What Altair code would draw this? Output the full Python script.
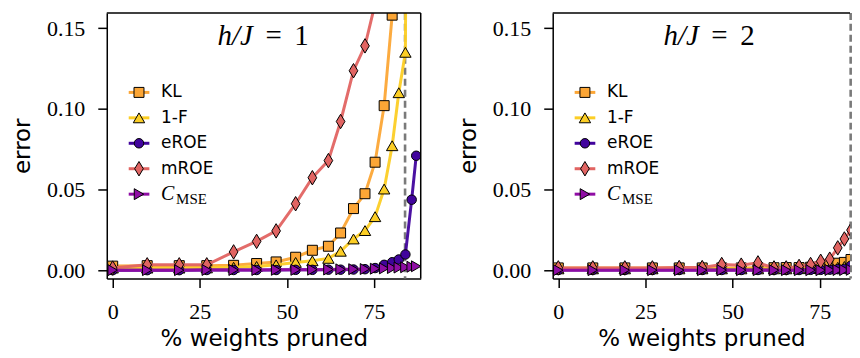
import altair as alt
import pandas as pd

# ---------------- data ----------------
pruned = [0, 9.9, 19.1, 27.0, 34.7, 41.3, 46.9, 52.5, 57.3, 61.9,
          65.4, 69.1, 72.4, 75.3, 77.9, 80.2, 82.1, 84.0, 85.8, 87.1]

series_names = ["KL", "1-F", "eROE", "mROE", "C_MSE"]
series_colors = ["#fca636", "#fcce25", "#41049d", "#e16462", "#8f0da4"]
thin_diamond = "M0,-1L0.6,0L0,1L-0.6,0Z"
series_shapes = ["square", "triangle-up", "circle", thin_diamond, "triangle-right"]
series_sizes = [100, 130, 90, 210, 120]

# h/J = 1
h1_kl = [0.0027, 0.003, 0.003, 0.003, 0.0032, 0.0043, 0.0053, 0.0082, 0.0125, 0.015,
         0.0232, 0.0383, 0.0475, 0.067, 0.102, 0.158, 0.26, 0.42, 0.6, 0.8]
h1_inf = [0.0015, 0.0015, 0.0015, 0.0016, 0.002, 0.0025, 0.0035, 0.005, 0.006, 0.0075,
          0.0119, 0.0195, 0.0247, 0.0333, 0.0504, 0.0772, 0.110, 0.135, 1.0, 1.5]
h1_eroe = [0.0002, 0.0002, 0.0002, 0.0003, 0.0003, 0.0003, 0.0003, 0.0004, 0.0004, 0.0005,
           0.0005, 0.0006, 0.0008, 0.0015, 0.0035, 0.0051, 0.0068, 0.0099, 0.0438, 0.071]
h1_mroe = [0.0015, 0.0035, 0.0035, 0.0035, 0.0115, 0.018, 0.0245, 0.0413, 0.0574, 0.068,
           0.0922, 0.1236, 0.139, 0.165, 0.3, 0.45, 0.6, 0.8, 1.0, 1.2]
h1_cmse = [0.0002, 0.0002, 0.0002, 0.0003, 0.0003, 0.0003, 0.0004, 0.0004, 0.0005, 0.0006,
           0.0007, 0.0008, 0.0009, 0.0011, 0.0013, 0.0015, 0.0018, 0.002, 0.0023, 0.0026]

# h/J = 2
h2_kl = [0.0016, 0.0016, 0.0016, 0.0016, 0.0016, 0.0016, 0.0016, 0.0016, 0.0017, 0.0017,
         0.0018, 0.0018, 0.002, 0.0025, 0.0033, 0.0045, 0.005, 0.0068, 0.1086, 0.6]
h2_inf = [0.001, 0.001, 0.001, 0.001, 0.001, 0.001, 0.001, 0.001, 0.001, 0.001,
          0.001, 0.0011, 0.0012, 0.0013, 0.0015, 0.002, 0.0025, 0.003, 0.099, 0.5]
h2_eroe = [0.0003, 0.0003, 0.0003, 0.0003, 0.0003, 0.0003, 0.0003, 0.0003, 0.0003, 0.0003,
           0.0003, 0.0003, 0.0004, 0.0004, 0.0005, 0.0008, 0.001, 0.003, 0.0088, 0.056]
h2_mroe = [0.0016, 0.0016, 0.0016, 0.0016, 0.0018, 0.0018, 0.0037, 0.0033, 0.0047, 0.0016,
           0.0016, 0.0025, 0.0037, 0.0057, 0.007, 0.014, 0.0195, 0.025, 0.0736, 0.3]
h2_cmse = [0.0002, 0.0002, 0.0002, 0.0002, 0.0002, 0.0002, 0.0002, 0.0002, 0.0002, 0.0002,
           0.0002, 0.0002, 0.0002, 0.0002, 0.0003, 0.0003, 0.0003, 0.0004, 0.0005, 0.0006]

threshold = 83.9
x_ticks = [0, 25, 50, 75]
y_ticks = [0.0, 0.05, 0.10, 0.15]
legend_labels = ["KL", "1-F", "eROE", "mROE", ""]

PANEL_H = 266.3
Y_DOMAIN = [-0.005, 0.1594]
PX_PER_UNIT = 3.493


def one_row():
    return alt.Chart(pd.DataFrame({"k": [0]}))


def panel(series_values, hj_text, width, xmin, right_border):
    xmax = xmin + width / PX_PER_UNIT
    rows = []
    for name, vals in zip(series_names, series_values):
        for x, v in zip(pruned, vals):
            rows.append({"x": x, "v": v, "series": name})
    df = pd.DataFrame(rows)
    base = alt.Chart(df)

    xs = alt.Scale(domain=[xmin, xmax], nice=False, zero=False)
    ys = alt.Scale(domain=Y_DOMAIN, nice=False, zero=False)
    xenc = alt.X("x:Q", scale=xs,
                 axis=alt.Axis(values=x_ticks, format="d", title="% weights pruned"))
    yenc = alt.Y("v:Q", scale=ys,
                 axis=alt.Axis(values=y_ticks, format=".2f", title="error"))

    thr = base.mark_rule(color="#7a7a7a", strokeDash=[7, 4], strokeWidth=2.6).encode(
        x=alt.datum(threshold, scale=xs)
    ).transform_filter(alt.datum.x == 0).transform_filter(alt.datum.series == "KL")

    data_layers = [thr]
    for name, col, shp, sz in zip(series_names, series_colors, series_shapes, series_sizes):
        sub = base.transform_filter(alt.datum.series == name)
        data_layers.append(
            sub.mark_line(color=col, strokeWidth=3, clip=True, opacity=0.95).encode(x=xenc, y=yenc)
        )
        data_layers.append(
            sub.mark_point(shape=shp, size=sz, filled=True, fill=col, stroke="black",
                           strokeWidth=1, opacity=1, fillOpacity=1, clip=True).encode(x=xenc, y=yenc)
        )
    data_layer = alt.layer(*data_layers)

    # legend (manual, so that the line passes through the marker like matplotlib)
    leg_df = pd.DataFrame({"series": series_names, "row": [0, 1, 2, 3, 4],
                           "label": legend_labels})
    lbase = alt.Chart(leg_df)
    ly = alt.Y("row:Q", scale=alt.Scale(domain=[0, 4], range=[79.7, 181.7]), axis=None)
    leg_layers = []
    for name, col, shp, sz in zip(series_names, series_colors, series_shapes, series_sizes):
        sub = lbase.transform_filter(alt.datum.series == name)
        leg_layers.append(sub.mark_rule(color=col, strokeWidth=3).encode(
            x=alt.value(22), x2=alt.value(42.7), y=ly))
        leg_layers.append(sub.mark_point(shape=shp, size=sz, filled=True, fill=col,
                                         stroke="black", strokeWidth=1, opacity=1).encode(
            x=alt.value(32.3), y=ly))
    leg_layers.append(lbase.mark_text(align="left", baseline="middle", font="DejaVu Sans",
                                      fontSize=17, color="black").encode(
        x=alt.value(54.4), y=ly, text="label:N"))
    cm = lbase.transform_filter(alt.datum.series == "C_MSE")
    leg_layers.append(cm.mark_text(align="left", baseline="middle", font="Liberation Serif",
                                   fontSize=20, fontStyle="italic", color="black").encode(
        x=alt.value(54.4), y=ly, text=alt.value("C")))
    leg_layers.append(cm.mark_text(align="left", baseline="middle", font="Liberation Serif",
                                   fontSize=15, color="black", dy=5).encode(
        x=alt.value(69.5), y=ly, text=alt.value("MSE")))
    legend_layer = alt.layer(*leg_layers)

    # frame pieces not provided by the axes + panel label
    ann = [
        one_row().mark_rule(color="black", strokeWidth=1.5).encode(
            x=alt.value(0), x2=alt.value(width), y=alt.value(0)),
        one_row().mark_text(align="left", baseline="alphabetic", font="Liberation Serif",
                            fontSize=29, fontStyle="italic", color="black").encode(
            x=alt.value(111), y=alt.value(32), text=alt.value("h/J")),
        one_row().mark_text(align="left", baseline="alphabetic", font="Liberation Serif",
                            fontSize=29, color="black").encode(
            x=alt.value(159), y=alt.value(32), text=alt.value("=")),
        one_row().mark_text(align="left", baseline="alphabetic", font="Liberation Serif",
                            fontSize=29, color="black").encode(
            x=alt.value(188), y=alt.value(32), text=alt.value(hj_text)),
    ]
    if right_border:
        ann.append(one_row().mark_rule(color="black", strokeWidth=1.5).encode(
            x=alt.value(width), y=alt.value(0), y2=alt.value(PANEL_H)))
    ann_layer = alt.layer(*ann)

    return alt.layer(data_layer, legend_layer, ann_layer).resolve_scale(
        y="independent").properties(width=width, height=PANEL_H)


left = panel([h1_kl, h1_inf, h1_eroe, h1_mroe, h1_cmse], "1", 314.7, -1.7, True)
right = panel([h2_kl, h2_inf, h2_eroe, h2_mroe, h2_cmse], "2", 298.0, -1.6, False)

chart = alt.hconcat(left, right, spacing=36).properties(
    padding={"left": 4, "top": 2.5, "right": 0, "bottom": 0}
).configure_view(stroke=None).configure_axis(
    domainColor="black", domainWidth=1.5, tickColor="black", tickWidth=1.5, tickSize=9,
    grid=False, labelFont="Liberation Serif", labelFontSize=22, labelColor="black",
    titleFont="DejaVu Sans", titleFontSize=23, titleFontWeight="normal", titleColor="black"
).configure_axisX(labelPadding=14, titlePadding=5).configure_axisY(
    labelPadding=13, titlePadding=11.5)

chart.save("out.html", embed_options={"renderer": "svg", "actions": False})
